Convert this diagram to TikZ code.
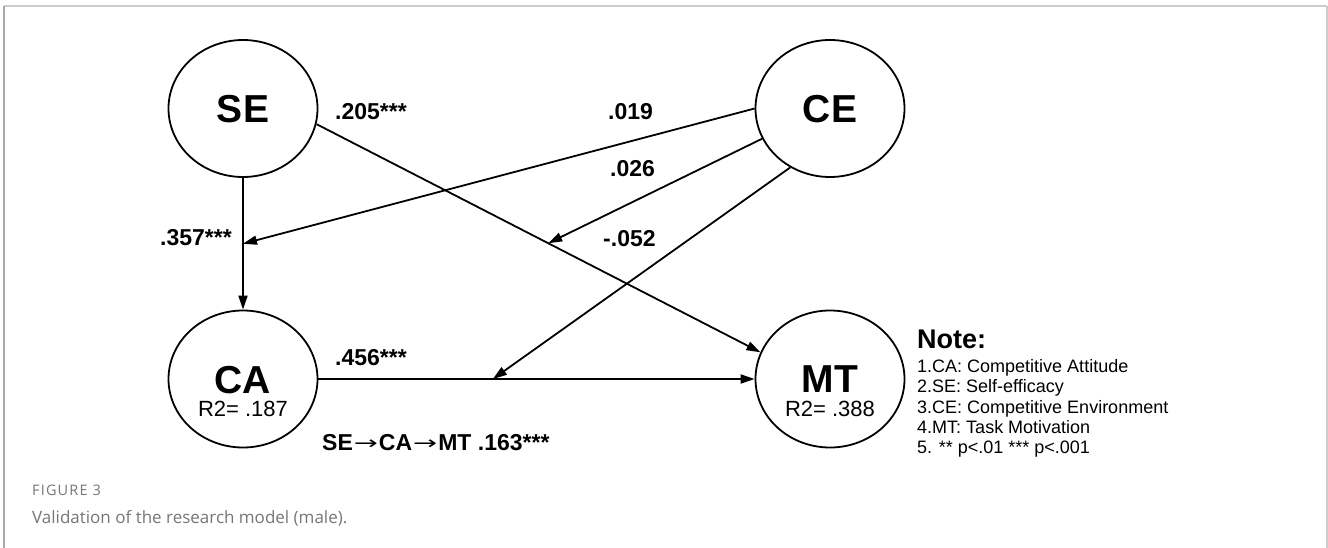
\documentclass[tikz,border=0pt]{standalone}
\usepackage{fontspec}
\setmainfont{Liberation Sans}
\newfontfamily\capfont{Open Sans}
\newfontfamily\capspaced[LetterSpace=8]{Open Sans}
\newfontfamily\arrowfont{DejaVu Sans}
\usetikzlibrary{arrows.meta,shapes.geometric,calc}
\definecolor{framegray}{HTML}{CCCCCC}
\definecolor{frameleft}{HTML}{A8A8A8}
\definecolor{captiongray}{HTML}{767676}
% thin, wide arrow between construct names
\newcommand{\medarrow}{\kern1pt\raisebox{0.5pt}{\scalebox{1.25}[0.8]{\arrowfont\mdseries →}}\kern1pt}
\tikzset{
  latent/.style={ellipse,draw,line width=1.8pt,minimum width=149pt,minimum height=137pt,inner sep=0pt},
  bigname/.style={anchor=base,inner sep=0pt,font=\fontsize{39}{44}\selectfont\bfseries},
  rsq/.style={anchor=base,inner sep=0pt,font=\fontsize{22}{26}\selectfont},
  coef/.style={anchor=base west,inner sep=0pt,font=\fontsize{23}{27}\selectfont\bfseries},
  notehead/.style={anchor=base west,inner sep=0pt,font=\fontsize{27}{31}\selectfont\bfseries},
  noteline/.style={anchor=base west,inner sep=0pt,font=\fontsize{18}{21}\selectfont},
  pathedge/.style={line width=1.8pt,-{Triangle[length=14pt,width=9pt]}},
}
\begin{document}
\begin{tikzpicture}[x=1pt,y=-1pt]
\useasboundingbox (0,0) rectangle (1328,548);
% page frame
\draw[framegray,line width=1.5pt] (4,6) -- (1327,6);
\draw[frameleft,line width=1.2pt] (4,6) -- (4,548);
\draw[framegray,line width=1.5pt] (1327,6) -- (1327,548);

% latent variables
\node[latent] (SE) at (243,108.5) {};
\node[latent] (CE) at (830,108.5) {};
\node[latent] (CA) at (243,379) {};
\node[latent] (MT) at (830,379) {};

\node[bigname] (SElab) at (243,123) {SE};
\node[bigname] (CElab) at (830,123) {CE};
\node[bigname] (CAlab) at (243,393) {CA};
\node[bigname] (MTlab) at (830,392) {MT};
\node[rsq] (CAr) at (243,416) {R2= .187};
\node[rsq] (MTr) at (830,416) {R2= .388};

% direct paths
\draw[pathedge] (SE.south) -- (CA.north);
\draw[pathedge] (SE.-12.6) -- (MT.159);
\draw[pathedge] (CA.east) -- (MT.west);

% moderating paths onto the direct paths
\coordinate (m1) at ($(SE.south)!0.5!(CA.north)$);
\coordinate (m2) at ($(SE.-12.6)!0.522!(MT.159)$);
\coordinate (m3) at ($(CA.east)!0.4!(MT.west)$);
\draw[pathedge] (CE.west) -- (m1);
\draw[pathedge] (CE.204.5) -- (m2);
\draw[pathedge] (CE.236.3) -- (m3);

% coefficients
\node[coef] (c1) at (335,120) {.205***};
\node[coef] (c2) at (160,246) {.357***};
\node[coef] (c3) at (608,120) {.019};
\node[coef] (c4) at (610,177) {.026};
\node[coef] (c5) at (603,247) {-.052};
\node[coef] (c6) at (335,365) {.456***};
\node[coef] (ind) at (322,450) {SE\medarrow CA\medarrow MT .163***};

% note
\node[notehead] (note) at (917,348) {Note:};
\node[noteline] (n1) at (917,372) {1.CA: Competitive Attitude};
\node[noteline] (n2) at (917,392) {2.SE: Self-efficacy};
\node[noteline] (n3) at (917,413) {3.CE: Competitive Environment};
\node[noteline] (n4) at (917,433) {4.MT: Task Motivation};
\node[noteline] (n5) at (917,453) {5. ** p<.01 *** p<.001};

% caption
\node[anchor=base west,inner sep=0pt,text=captiongray,font=\capspaced\fontsize{14.5}{18}\selectfont] (fig) at (32,495) {FIGURE 3};
\node[anchor=base west,inner sep=0pt,text=captiongray,font=\capfont\fontsize{17}{21}\selectfont] (cap) at (32,523) {Validation of the research model (male).};
\end{tikzpicture}
\end{document}
